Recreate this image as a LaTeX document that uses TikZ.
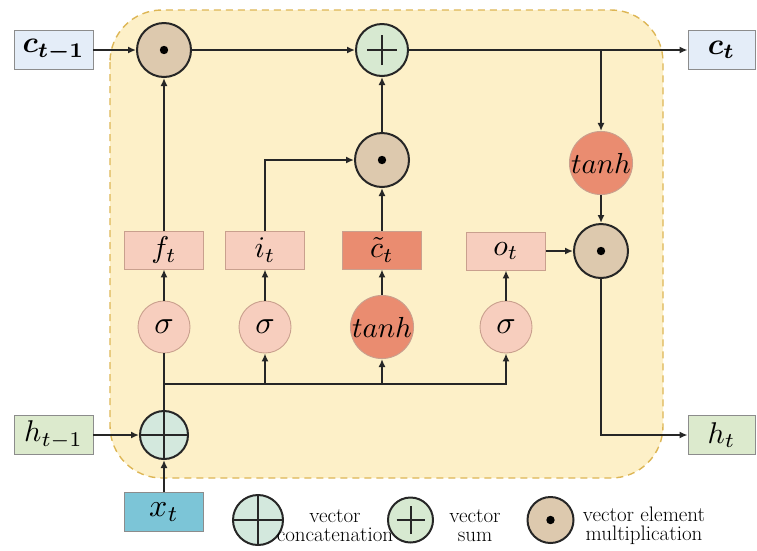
\documentclass[tikz,border=0pt]{standalone}
\usepackage{graphicx}
\usepackage{amsmath}
\usetikzlibrary{arrows.meta}
\definecolor{cellfill}{HTML}{FDF0C8}
\definecolor{celldash}{HTML}{DDB655}
\definecolor{cboxc}{HTML}{E4EDF8}
\definecolor{hboxc}{HTML}{DCEACD}
\definecolor{xboxc}{HTML}{7CC5D7}
\definecolor{gatec}{HTML}{F7CEBE}
\definecolor{gatedark}{HTML}{EA8C70}
\definecolor{multc}{HTML}{DDC9AE}
\definecolor{sumc}{HTML}{D7E9D1}
\definecolor{concatc}{HTML}{D3E8DD}
\definecolor{boxline}{HTML}{8C8C8C}
\definecolor{gateline}{HTML}{C9A08E}
\newcommand{\mlab}[2]{\scalebox{#1}{$#2$}}
\begin{document}
\begin{tikzpicture}[x=1pt,y=-1pt,
  conn/.style={line width=2pt,draw=black!85},
  arr/.style={conn,-{Latex[length=8pt,width=7pt]}},
  iobox/.style={rectangle,draw=boxline,line width=0.9pt,minimum width=79pt,minimum height=39pt,inner sep=0pt},
  gatebox/.style={rectangle,draw=gateline,line width=0.9pt,fill=gatec,minimum width=79pt,minimum height=38pt,inner sep=0pt},
  actc/.style={circle,draw=gateline,line width=0.9pt,fill=gatec,minimum size=52pt,inner sep=0pt},
  opc/.style={circle,draw=black!85,line width=2pt,minimum size=#1,inner sep=0pt},
  legtext/.style={font=\fontsize{21}{19}\selectfont,align=center,inner sep=0pt}
]
\useasboundingbox (0,0) rectangle (757,550);
% cell background
\draw[fill=cellfill,draw=celldash,line width=1.4pt,dash pattern=on 7pt off 5pt,rounded corners=52pt]
  (110,10) rectangle (663,478);

% io boxes
\node[iobox,fill=cboxc] (cprev) at (53.5,50) {\mlab{3}{\boldsymbol{c_{t-1}}}};
\node[iobox,fill=cboxc,minimum width=67pt] (ct) at (721.5,50) {\mlab{3}{\boldsymbol{c_t}}};
\node[iobox,fill=hboxc] (hprev) at (53.5,435) {\mlab{3}{h_{t-1}}};
\node[iobox,fill=hboxc,minimum width=67pt] (ht) at (721.5,435) {\mlab{3}{h_t}};
\node[iobox,fill=xboxc] (xt) at (164,512) {\mlab{3.2}{x_t}};

% gate boxes
\node[gatebox] (f) at (164,250) {\mlab{3}{f_t}};
\node[gatebox] (i) at (265,250) {\mlab{3}{i_t}};
\node[gatebox,fill=gatedark] (ctil) at (382,250) {\mlab{3}{\tilde{c}_t}};
\node[gatebox] (o) at (506,251) {\mlab{3}{o_t}};

% activation circles
\node[actc] (s1) at (164,327) {\mlab{3.2}{\sigma}};
\node[actc] (s2) at (265,327) {\mlab{3.2}{\sigma}};
\node[actc,fill=gatedark] (th1) at (382,327) {\mlab{2.9}{tanh}};
\node[actc] (s3) at (506,327) {\mlab{3.2}{\sigma}};
\node[actc,fill=gatedark,minimum size=50pt] (th2) at (601,163) {\mlab{2.9}{tanh}};

% operator circles
\node[opc=54pt,fill=multc] (m1) at (164,50) {};
\node[opc=52pt,fill=sumc] (plus) at (382,50) {};
\node[opc=54pt,fill=multc] (m2) at (382,160) {};
\node[opc=54pt,fill=multc] (m3) at (601,251) {};
\node[opc=48pt,fill=concatc] (cat) at (164,435) {};
\foreach \n in {m1,m2,m3} \fill (\n.center) circle (4.2pt);
\draw[conn] ([xshift=-15pt]plus.center) -- ([xshift=15pt]plus.center);
\draw[conn] ([yshift=-15pt]plus.center) -- ([yshift=15pt]plus.center);
\draw[conn] (cat.west) -- (cat.east);
\draw[conn] (cat.north) -- (cat.south);

% coordinates
\coordinate (br) at (601,50);
\coordinate (b1) at (164,384);
\coordinate (b2) at (265,384);
\coordinate (b3) at (382,384);

% connectors
\draw[arr] (cprev.east) -- (m1.west);
\draw[arr] (m1.east) -- (plus.west);
\draw[arr] (plus.east) -- (ct.west);
\draw[arr] (br) -- (th2.north);
\draw[arr] (th2.south) -- (m3.north);
\draw[arr] (o.east) -- (m3.west);
\draw[arr] (m3.south) |- (ht.west);
\draw[arr] (f.north) -- (m1.south);
\draw[arr] (i.north) |- (m2.west);
\draw[arr] (ctil.north) -- (m2.south);
\draw[arr] (m2.north) -- (plus.south);
\draw[arr] (s1.north) -- (f.south);
\draw[arr] (s2.north) -- (i.south);
\draw[arr] (th1.north) -- (ctil.south);
\draw[arr] (s3.north) -- (o.south);
\draw[arr] (xt.north) -- (cat.south);
\draw[arr] (hprev.east) -- (cat.west);
\draw[conn] (cat.north) -- (s1.south);
\draw[arr] (b1) -| (s3.south);
\draw[arr] (b2) -- (s2.south);
\draw[arr] (b3) -- (th1.south);

% legend
\node[opc=50pt,fill=concatc] (lcat) at (258,520) {};
\draw[conn] (lcat.west) -- (lcat.east);
\draw[conn] (lcat.north) -- (lcat.south);
\node[legtext] (tcat) at (335,526) {vector\\concatenation};
\node[opc=45pt,fill=sumc] (lsum) at (410.5,520) {};
\draw[conn] ([xshift=-14pt]lsum.center) -- ([xshift=14pt]lsum.center);
\draw[conn] ([yshift=-14pt]lsum.center) -- ([yshift=14pt]lsum.center);
\node[legtext] (tsum) at (475,526) {vector\\sum};
\node[opc=46pt,fill=multc] (lmul) at (550.5,520) {};
\fill (lmul.center) circle (4.2pt);
\node[legtext] (tmul) at (644,526) {vector element\\multiplication};
\end{tikzpicture}
\end{document}
